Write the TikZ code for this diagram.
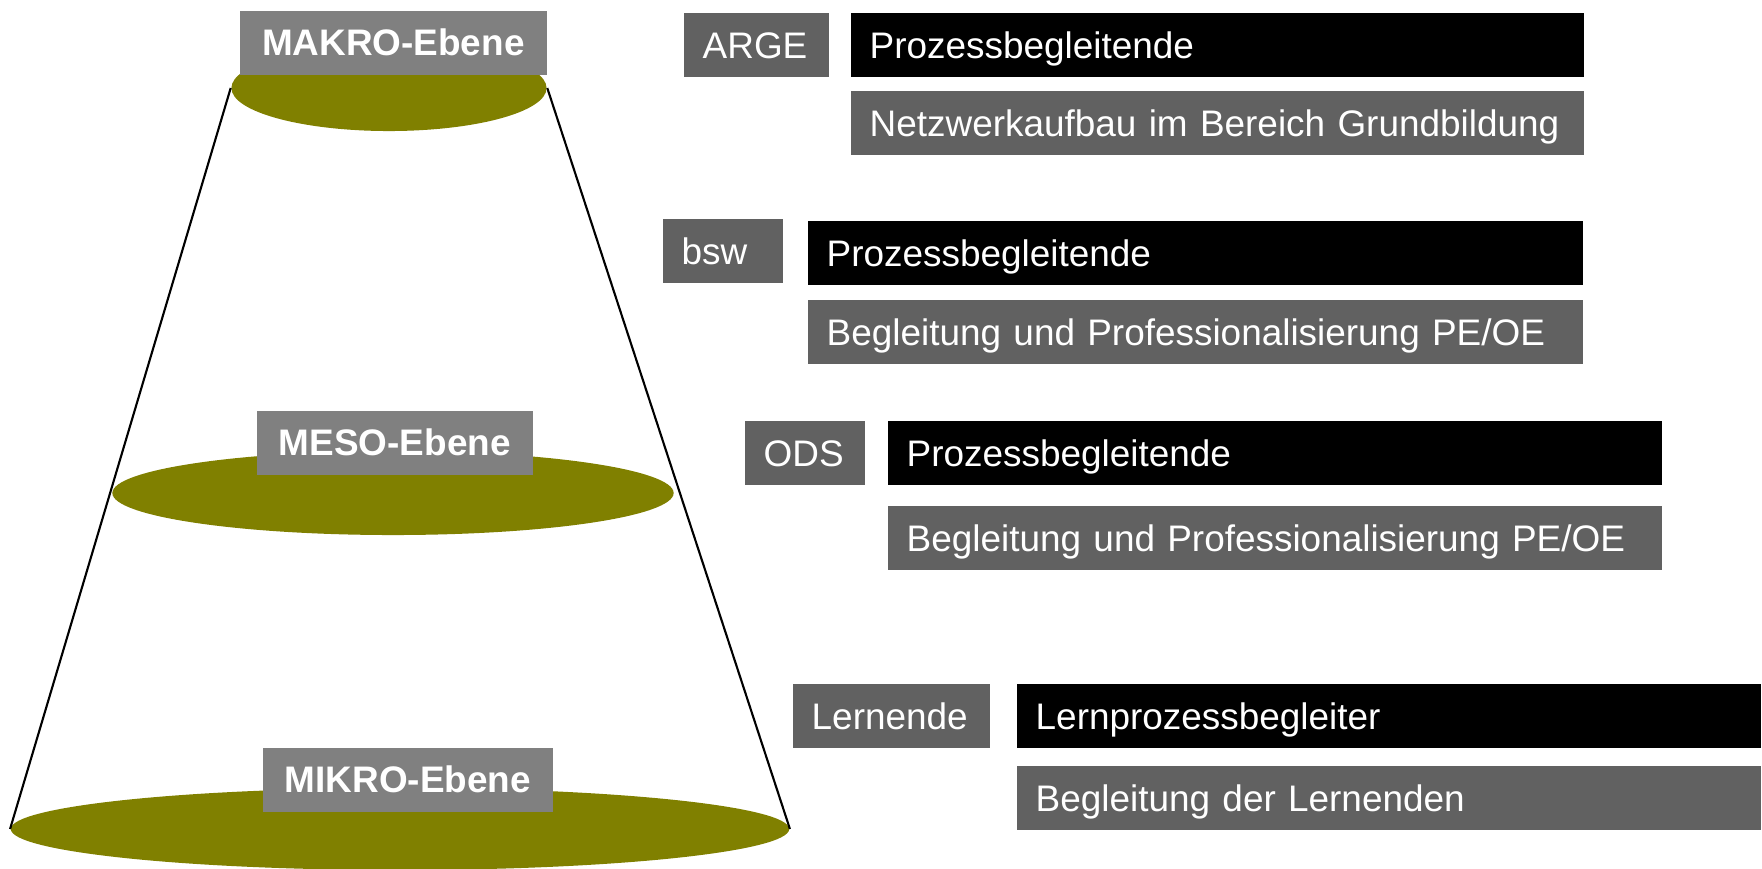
\documentclass[tikz,border=0pt]{standalone}
\usepackage{fontspec}
\setmainfont{Liberation Sans}
\usetikzlibrary{shapes.geometric}
\definecolor{plateolive}{RGB}{128,128,0}
\definecolor{levelgrey}{RGB}{128,128,128}
\definecolor{orggrey}{RGB}{97,97,97}
\begin{document}
\begin{tikzpicture}[x=0.01cm, y=-0.01cm,
    plate/.style={ellipse, fill=plateolive, inner sep=0pt},
    level/.style={fill=levelgrey, text=white, font=\fontsize{10.5}{12}\selectfont\bfseries,
        minimum height=0.64cm, inner sep=0pt, text height=0.27cm, text depth=0.01cm, anchor=north west},
    bar/.style={text=white, font=\fontsize{10.5}{12}\selectfont, minimum height=0.64cm,
        inner xsep=0.19cm, inner ysep=0pt, text height=0.27cm, text depth=0cm, align=left, anchor=north west},
    org/.style={bar, fill=orggrey},
    role/.style={bar, fill=black},
    task/.style={bar, fill=orggrey}]
    \useasboundingbox (0,0) rectangle (1762,869);

    % Ebenen
    \node[plate, minimum width=3.15cm, minimum height=0.86cm] (makro) at (389,88) {};
    \node[plate, minimum width=5.61cm, minimum height=0.84cm] (meso) at (393,493) {};
    \node[plate, minimum width=7.78cm, minimum height=0.82cm] (mikro) at (400,829) {};

    % Kegel
    \draw[semithick] (makro.west) -- (mikro.west);
    \draw[semithick] (makro.east) -- (mikro.east);

    \node[level, minimum width=3.07cm] (makrolabel) at (239,10) {MAKRO-Ebene};
    \node[level, minimum width=2.76cm] (mesolabel) at (256,410) {MESO-Ebene};
    \node[level, minimum width=2.90cm] (mikrolabel) at (262,747) {MIKRO-Ebene};

    % ARGE
    \node[org, text width=1.07cm] (arge) at (683,12) {ARGE};
    \node[role, text width=6.95cm] (argerole) at (850,12) {Prozessbegleitende};
    \node[task, text width=6.95cm] (argetask) at (850,90) {\mbox{Netzwerkaufbau im Bereich Grundbildung}};

    % bsw
    \node[org, text width=0.82cm] (bsw) at (662,218) {bsw};
    \node[role, text width=7.37cm] (bswrole) at (807,220) {Prozessbegleitende};
    \node[task, text width=7.37cm] (bswtask) at (807,299) {\mbox{Begleitung und Professionalisierung PE/OE}};

    % ODS
    \node[org, text width=0.82cm] (ods) at (744,420) {ODS};
    \node[role, text width=7.36cm] (odsrole) at (887,420) {Prozessbegleitende};
    \node[task, text width=7.36cm] (odstask) at (887,505) {\mbox{Begleitung und Professionalisierung PE/OE}};

    % Lernende
    \node[org, text width=1.59cm] (lernende) at (792,683) {Lernende};
    \node[role, text width=7.06cm] (lernrole) at (1016,683) {Lernprozessbegleiter};
    \node[task, text width=7.06cm] (lerntask) at (1016,765) {Begleitung der Lernenden};
\end{tikzpicture}
\end{document}
